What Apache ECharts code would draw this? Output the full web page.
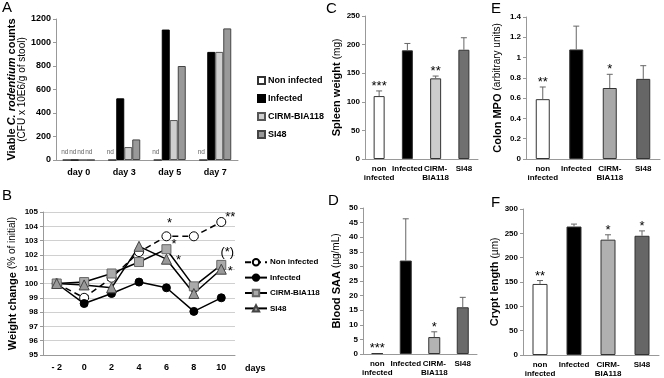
<!DOCTYPE html>
<html style="height: 100%">
<head>
  <meta charset="utf-8">
  <script src="https://cdn.jsdelivr.net/npm/echarts@6/dist/echarts.min.js"></script>
</head>
<body style="height: 100%; width: 100%; margin: 0; background: #fff">
<div id="main" style="width: 664px; height: 378px"></div>
<script type="text/javascript">
// groups
var groups = ['Non infected', 'Infected', 'CIRM-BIA118', 'SI48'];
var groupLabels = ['non\ninfected', 'Infected', 'CIRM-\nBIA118', 'SI48'];

// A - viable counts (0 = nd)
var dayCats = ['day 0', 'day 3', 'day 5', 'day 7'];
var cfuNonInf = [0, 0, 0, 0];
var cfuInf = [0, 525, 1110, 920];
var cfuCirm = [0, 110, 340, 920];
var cfuSi48 = [0, 175, 800, 1120];

// B - weight change
var wtDays = ['- 2', '0', '2', '4', '6', '8', '10'];
var wtNonInf = [100, 99.0, 100.4, 102.2, 103.3, 103.3, 104.3];
var wtInf = [100, 98.6, 99.3, 100.1, 99.7, 98.05, 99.0];
var wtCirm = [100, 100.1, 100.7, 101.5, 102.4, 99.8, 101.3];
var wtSi48 = [100, 99.9, 99.7, 102.6, 101.7, 99.3, 101.0];
var wtStarNonInf = ['', '', '', '', '*', '', '**'];
var wtStarCirm = ['', '', '', '', '*', '', '(*)'];
var wtStarSi48 = ['', '', '', '', '*', '', '*'];

// C - spleen weight
var spleen = [110, 190, 141, 191];
var spleenErr = [9, 12, 4, 21];
var spleenStar = ['***', '', '**', ''];
// D - blood SAA
var saa = [0.3, 32, 5.8, 16];
var saaErr = [0, 14.3, 1.8, 3.4];
var saaStar = ['***', '', '*', ''];
// E - colon MPO
var mpo = [0.59, 1.08, 0.70, 0.79];
var mpoErr = [0.12, 0.23, 0.135, 0.13];
var mpoStar = ['**', '', '*', ''];
// F - crypt length
var crypt = [146, 264, 237, 245];
var cryptErr = [7, 5, 10, 10];
var cryptStar = ['**', '', '*', '*'];

var FONT = 'Liberation Sans, Arial, sans-serif';
var AXC = '#999';

var chart = echarts.init(document.getElementById('main'));

function valAxis(gi, min, max, step, name, gap) {
  return {
    type: 'value', gridIndex: gi, min: min, max: max, interval: step,
    name: name, nameLocation: 'middle', nameGap: gap, nameRotate: 90,
    nameTextStyle: {
      fontFamily: FONT, color: '#000',
      rich: {
        b: { fontFamily: FONT, fontWeight: 'bold', fontSize: 11, color: '#000' },
        bi: { fontFamily: FONT, fontWeight: 'bold', fontStyle: 'italic', fontSize: 11, color: '#000' },
        n: { fontFamily: FONT, fontSize: 10, color: '#000' }
      }
    },
    axisLine: { show: true, lineStyle: { color: AXC } },
    axisTick: { show: true, length: 3, lineStyle: { color: AXC } },
    splitLine: { show: false },
    axisLabel: { fontFamily: FONT, fontWeight: 'bold', fontSize: 8, color: '#000', margin: 5,
      formatter: function (v) { return String(Math.round(v * 10) / 10); } }
  };
}

function catAxis(gi, cats, size, margin) {
  return {
    type: 'category', gridIndex: gi, data: cats,
    axisLine: { lineStyle: { color: AXC } },
    axisTick: { length: 4, lineStyle: { color: AXC } },
    axisLabel: { fontFamily: FONT, fontWeight: 'bold', fontSize: size, color: '#000', margin: margin, lineHeight: 8.5, interval: 0 }
  };
}

// bar colours per group for panels C-F
function groupBars(gi, vals, width, cirmCol, siCol) {
  var cols = ['#fff', '#000', cirmCol, siCol];
  return {
    type: 'bar', xAxisIndex: gi, yAxisIndex: gi, barWidth: width, silent: true,
    data: vals.map(function (v, i) {
      return { value: v, itemStyle: { color: cols[i], borderColor: '#333', borderWidth: 1 } };
    })
  };
}

function errBars(gi, vals, errs, stars) {
  return {
    type: 'custom', xAxisIndex: gi, yAxisIndex: gi, silent: true, z: 5,
    data: vals.map(function (v, i) { return [i, v, errs[i]]; }),
    renderItem: function (params, api) {
      var i = api.value(0), v = api.value(1), e = api.value(2);
      var p0 = api.coord([i, v]);
      var p1 = api.coord([i, v + e]);
      var kids = [];
      if (e > 0) {
        kids.push({ type: 'line', shape: { x1: p0[0], y1: p0[1], x2: p1[0], y2: p1[1] }, style: { stroke: '#666', lineWidth: 1 } });
        kids.push({ type: 'line', shape: { x1: p1[0] - 3, y1: p1[1], x2: p1[0] + 3, y2: p1[1] }, style: { stroke: '#666', lineWidth: 1 } });
      }
      kids.push({ type: 'text', style: { text: stars[i], x: p1[0], y: p1[1] + 2, align: 'center', verticalAlign: 'bottom', font: '13px ' + FONT, fill: '#000' } });
      return { type: 'group', children: kids };
    }
  };
}

function cfuSeries(name, vals, color, border) {
  return {
    name: name, type: 'bar', xAxisIndex: 0, yAxisIndex: 0, barGap: '0%', barWidth: 8,
    itemStyle: { color: color, borderColor: border, borderWidth: 1 },
    label: {
      show: true, position: 'top', distance: 4, offset: [-2, 0], fontFamily: FONT, fontSize: 6.5, color: '#666',
      formatter: function (p) { return p.value === 0 ? 'nd' : ''; }
    },
    data: vals
  };
}

function starData(vals, stars, pos) {
  return vals.map(function (v, i) {
    if (!stars[i]) return v;
    return { value: v, label: { show: true, formatter: stars[i], position: pos[i][0], offset: pos[i][1],
      fontFamily: FONT, fontSize: 13, color: '#000', distance: 2 } };
  });
}

function wtSeries(name, data, symbol, size, fill, border, dashed) {
  return {
    name: 'wt:' + name, type: 'line', xAxisIndex: 1, yAxisIndex: 1,
    symbol: symbol, symbolSize: size,
    lineStyle: { color: '#000', width: 1.5, type: dashed ? [6, 4] : 'solid' },
    itemStyle: { color: fill, borderColor: border, borderWidth: 1 },
    data: data
  };
}

var nonPos = [null, null, null, null, ['top', [3, 1]], null, ['right', [-3, -5]]];
var cirmPos = [null, null, null, null, ['right', [-2, -5]], null, ['top', [6, 1]]];
var siPos = [null, null, null, null, ['right', [2, 1]], null, ['right', [-1, 2]]];

var letters = ['A', 'B', 'C', 'D', 'E', 'F'];
var letterPos = [[2, 0], [2, 188], [326, 1], [328, 193], [491, 1], [491, 195]];

var option = {
  animation: false,
  backgroundColor: '#fff',
  title: letters.map(function (t, i) {
    return { text: t, left: letterPos[i][0], top: letterPos[i][1], padding: 0,
      textStyle: { fontFamily: FONT, fontSize: 15, fontWeight: 'normal', color: '#000' } };
  }),
  legend: [
    {
      orient: 'vertical', left: 252, top: 71, itemWidth: 7, itemHeight: 7, itemGap: 9, icon: 'rect',
      selectedMode: false, data: groups,
      textStyle: { fontFamily: FONT, fontWeight: 'bold', fontSize: 9, color: '#000', padding: [0, 0, 0, -2] }
    },
    {
      orient: 'vertical', left: 239, top: 253, itemWidth: 22, itemHeight: 8, itemGap: 7,
      selectedMode: false, data: groups.map(function (g) { return 'wt:' + g; }),
      formatter: function (n) { return n.replace('wt:', ''); },
      textStyle: { fontFamily: FONT, fontWeight: 'bold', fontSize: 8, color: '#000', padding: [0, 0, 0, -2] }
    }
  ],
  grid: [
    { left: 56, top: 19, width: 182, height: 141, outerBoundsMode: 'none' },
    { left: 43, top: 212, width: 192, height: 143, outerBoundsMode: 'none' },
    { left: 365, top: 16, width: 113, height: 143, outerBoundsMode: 'none' },
    { left: 363, top: 208, width: 114, height: 146, outerBoundsMode: 'none' },
    { left: 526, top: 17, width: 134, height: 142, outerBoundsMode: 'none' },
    { left: 523, top: 209, width: 136, height: 146, outerBoundsMode: 'none' }
  ],
  xAxis: [
    catAxis(0, dayCats, 9, 8),
    (function () {
      var a = catAxis(1, wtDays, 9, 8);
      a.name = 'days'; a.nameLocation = 'end'; a.nameGap = 10;
      a.nameTextStyle = { fontFamily: FONT, fontWeight: 'bold', fontSize: 9, color: '#000', verticalAlign: 'top', padding: [9, 0, 0, 0] };
      return a;
    })(),
    catAxis(2, groupLabels, 8, 6),
    catAxis(3, groupLabels, 8, 6),
    catAxis(4, groupLabels, 8, 6),
    catAxis(5, groupLabels, 8, 6)
  ],
  yAxis: [
    (function () {
      var a = valAxis(0, 0, 1200, 200, '{b|Viable }{bi|C. rodentium}{b| counts}\n{n|(CFU x 10E6/g of stool)}', 25);
      a.axisLabel.fontSize = 9;
      return a;
    })(),
    (function () {
      var a = valAxis(1, 95, 105, 1, '{b|Weight change }{n|(% of initial)}', 25);
      a.splitLine = { show: true, lineStyle: { color: '#d0d0d0' } };
      return a;
    })(),
    valAxis(2, 0, 250, 50, '{b|Spleen weight }{n|(mg)}', 21),
    valAxis(3, 0, 50, 5, '{b|Blood SAA }{n|(\u00b5g/mL)}', 21),
    valAxis(4, 0, 1.4, 0.2, '{b|Colon MPO }{n|(arbitrary units)}', 23),
    valAxis(5, 0, 300, 50, '{b|Crypt length }{n|(\u00b5m)}', 21)
  ],
  series: [
    cfuSeries(groups[0], cfuNonInf, '#fff', '#333'),
    cfuSeries(groups[1], cfuInf, '#000', '#000'),
    cfuSeries(groups[2], cfuCirm, '#cfcfcf', '#555'),
    cfuSeries(groups[3], cfuSi48, '#999', '#444'),

    wtSeries(groups[0], starData(wtNonInf, wtStarNonInf, nonPos), 'circle', 9, '#fff', '#000', true),
    wtSeries(groups[1], wtInf, 'circle', 8, '#000', '#000', false),
    wtSeries(groups[2], starData(wtCirm, wtStarCirm, cirmPos), 'rect', 9, '#aaa', '#666', false),
    wtSeries(groups[3], starData(wtSi48, wtStarSi48, siPos), 'triangle', 10, '#999', '#444', false),

    groupBars(2, spleen, 11, '#cccccc', '#707070'),
    errBars(2, spleen, spleenErr, spleenStar),
    groupBars(3, saa, 12, '#b3b3b3', '#6a6a6a'),
    errBars(3, saa, saaErr, saaStar),
    groupBars(4, mpo, 14, '#a8a8a8', '#666666'),
    errBars(4, mpo, mpoErr, mpoStar),
    groupBars(5, crypt, 15, '#b0b0b0', '#666666'),
    errBars(5, crypt, cryptErr, cryptStar)
  ]
};

chart.setOption(option);
</script>
</body>
</html>
